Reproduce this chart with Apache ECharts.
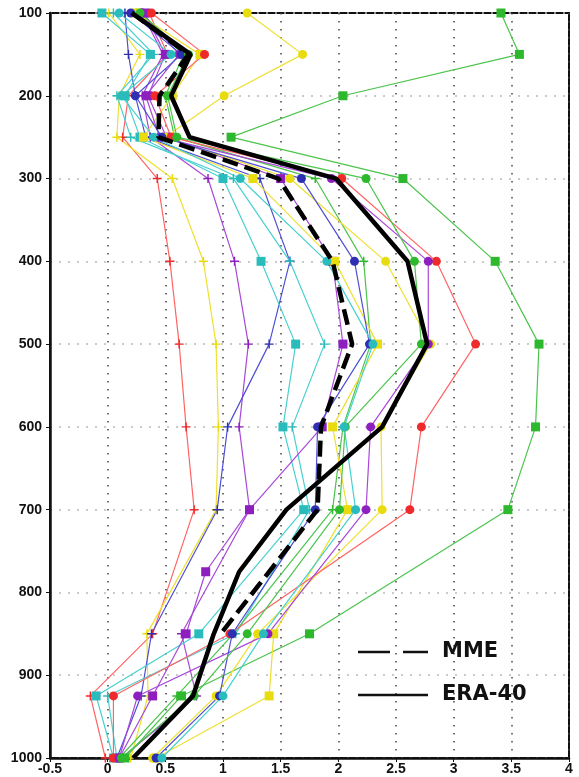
<!DOCTYPE html>
<html>
<head>
<meta charset="utf-8">
<script src="https://cdn.jsdelivr.net/npm/echarts@6/dist/echarts.min.js"></script>
<style>html,body{margin:0;padding:0;background:#fff;}#c{width:579px;height:777px;}</style>
</head>
<body>
<div id="c"></div>
<script>
// pressure levels (hPa)
const levels    = [100,150,200,250,300,400,500,600,700,850,925,1000];
const levelsEra = [100,150,200,250,300,400,500,600,700,775,850,925,1000];
const levelsMme = [100,150,200,250,300,400,500,600,700,850];

// x-axis ticks
const xTicks = [-0.5,0,0.5,1,1.5,2,2.5,3,3.5,4];

// model profiles (values at levels)
const redPlus      = [0.36, 0.52, 0.18, 0.13, 0.43, 0.54, 0.62, 0.68, 0.75, 0.39, -0.15, -0.02];
const yellowPlus   = [0.01, 0.28, 0.10, 0.08, 0.56, 0.83, 0.94, 0.96, 0.94, 0.34, 0.35, 0.20];
const purplePlus   = [0.30, 0.48, 0.30, 0.37, 0.87, 1.10, 1.22, 1.14, 1.23, 0.64, 0.77, 0.12];
const bluePlus     = [0.15, 0.18, 0.24, 0.33, 1.32, 1.58, 1.40, 1.04, 0.95, 0.38, 0.29, 0.08];
const cyanPlus     = [0.05, 0.40, 0.08, 0.20, 1.09, 1.58, 1.88, 1.60, 1.75, 1.11, 0.00, 0.08];
const greenPlus    = [0.25, 0.66, 0.50, 0.58, 1.80, 2.22, 2.28, 2.04, 1.95, 1.09, 0.60, 0.10];
const cyanSquare   = [-0.05, 0.37, 0.15, 0.28, 1.00, 1.33, 1.63, 1.52, 1.70, 0.79, -0.10, 0.05];
const purpleSquare = [0.32, 0.50, 0.35, 0.51, 1.50, 1.95, 2.04, 1.86, 1.23, 0.85, 0.68, 0.39, 0.10]; // levelsEra
const greenSquare  = [3.41, 3.57, 2.04, 1.07, 2.56, 3.36, 3.74, 3.71, 3.47, 1.75, 0.64, 0.15];
const yellowSquare = [0.25, 0.80, 0.56, 0.31, 1.26, 1.97, 2.34, 1.95, 2.08, 1.44, 1.40, 0.42];
const yellowCircle = [1.21, 1.69, 1.01, 0.50, 1.58, 2.41, 2.80, 2.37, 2.38, 1.30, 0.94, 0.39];
const redCircle    = [0.38, 0.84, 0.41, 0.55, 2.03, 2.85, 3.19, 2.72, 2.62, 1.06, 0.05, 0.05];
const purpleCircle = [0.30, 0.62, 0.33, 0.45, 1.94, 2.78, 2.78, 2.28, 2.24, 1.39, 0.26, 0.10];
const blueCircle   = [0.20, 0.64, 0.24, 0.47, 1.68, 2.14, 2.27, 1.82, 1.80, 1.08, 0.97, 0.42];
const greenCircle  = [0.28, 0.70, 0.52, 0.60, 2.24, 2.66, 2.72, 2.06, 2.01, 1.21, 0.75, 0.12];
const cyanCircle   = [0.10, 0.55, 0.12, 0.40, 1.15, 1.90, 2.30, 2.05, 2.15, 1.35, 1.00, 0.47];

// ensemble mean and reanalysis
const mme   = [0.21, 0.70, 0.45, 0.44, 1.48, 1.95, 2.12, 1.85, 1.82, 0.98];       // levelsMme
const era40 = [0.21, 0.72, 0.55, 0.71, 1.98, 2.60, 2.77, 2.38, 1.55, 1.14, 0.92, 0.74, 0.22]; // levelsEra

const legendNames = ['MME', 'ERA-40'];

const C = {
  red:    {line:'#ff6464', item:'#ee2a2a'},
  yellow: {line:'#eee030', item:'#e8dc10'},
  purple: {line:'#a848d8', item:'#8e1fbf'},
  blue:   {line:'#5050d4', item:'#2f2fb4'},
  cyan:   {line:'#48d0d0', item:'#2abcbc'},
  green:  {line:'#4cc44c', item:'#2eb82e'}
};
const PLUS = 'path://M0,4.2H10V5.8H0ZM4.2,0H5.8V10H4.2Z';
const SYM = {plus:[PLUS,9], square:['rect',9], circle:['circle',9]};

function pairs(xs, lv){ return xs.map((v,i)=>[v, lv[i]]); }
function model(name, xs, lv, col, mk){
  return {
    name, type:'line', data:pairs(xs, lv),
    symbol:SYM[mk][0], symbolSize:SYM[mk][1], showSymbol:true,
    lineStyle:{color:C[col].line, width:1.2},
    itemStyle:{color:C[col].item},
    emphasis:{disabled:true}, animation:false, z:2
  };
}

const series = [
  model('redPlus', redPlus, levels, 'red', 'plus'),
  model('yellowPlus', yellowPlus, levels, 'yellow', 'plus'),
  model('purplePlus', purplePlus, levels, 'purple', 'plus'),
  model('bluePlus', bluePlus, levels, 'blue', 'plus'),
  model('cyanPlus', cyanPlus, levels, 'cyan', 'plus'),
  model('greenPlus', greenPlus, levels, 'green', 'plus'),
  model('cyanSquare', cyanSquare, levels, 'cyan', 'square'),
  model('purpleSquare', purpleSquare, levelsEra, 'purple', 'square'),
  model('greenSquare', greenSquare, levels, 'green', 'square'),
  model('yellowSquare', yellowSquare, levels, 'yellow', 'square'),
  model('yellowCircle', yellowCircle, levels, 'yellow', 'circle'),
  model('redCircle', redCircle, levels, 'red', 'circle'),
  model('purpleCircle', purpleCircle, levels, 'purple', 'circle'),
  model('blueCircle', blueCircle, levels, 'blue', 'circle'),
  model('greenCircle', greenCircle, levels, 'green', 'circle'),
  model('cyanCircle', cyanCircle, levels, 'cyan', 'circle'),
  {name:legendNames[0], type:'line', data:pairs(mme, levelsMme), symbol:'none',
   lineStyle:{color:'#000', width:4.5, type:[16,7]}, itemStyle:{color:'#000'}, z:5, animation:false},
  {name:legendNames[1], type:'line', data:pairs(era40, levelsEra), symbol:'none',
   lineStyle:{color:'#000', width:4.5}, itemStyle:{color:'#000'}, z:6, animation:false}
];

const chart = echarts.init(document.getElementById('c'));
chart.setOption({
  backgroundColor:'#fff',
  animation:false,
  grid:{left:50, right:10, top:13, bottom:19, show:true, borderColor:'#111', borderWidth:2, backgroundColor:'transparent'},
  xAxis:{
    type:'value', min:xTicks[0], max:xTicks[xTicks.length-1], interval:0.5,
    axisLine:{show:true, onZero:false, lineStyle:{color:'#111', width:2.5}},
    axisTick:{show:true, length:4, lineStyle:{color:'#111'}},
    axisLabel:{color:'#111', fontFamily:'Liberation Sans', fontWeight:'bold', fontSize:14, margin:4,
      formatter:v=>String(v)},
    splitLine:{show:true, lineStyle:{color:'#444', width:1.5, type:[1.5,6.5]}}
  },
  yAxis:{
    type:'value', inverse:true, min:levels[0], max:levels[levels.length-1], interval:100,
    axisLine:{show:true, onZero:false, lineStyle:{color:'#111', width:2.5}},
    axisTick:{show:true, length:4, lineStyle:{color:'#111'}},
    axisLabel:{color:'#111', fontFamily:'Liberation Sans', fontWeight:'bold', fontSize:14, margin:8,
      formatter:v=>String(v)},
    splitLine:{show:true, lineStyle:{color:'#bbb', width:1.5, type:[2,7]}}
  },
  graphic:[
    {type:'line', shape:{x1:358, y1:652, x2:428, y2:652}, style:{stroke:'#111', lineWidth:2.5, lineDash:[32,13]}, z:10},
    {type:'text', x:442, y:652, style:{text:legendNames[0], fontFamily:'DejaVu Sans', fontWeight:'bold', fontSize:21, fill:'#111', textVerticalAlign:'middle'}, z:10},
    {type:'line', shape:{x1:358, y1:695, x2:428, y2:695}, style:{stroke:'#111', lineWidth:2.5}, z:10},
    {type:'text', x:442, y:695, style:{text:legendNames[1], fontFamily:'DejaVu Sans', fontWeight:'bold', fontSize:21, fill:'#111', textVerticalAlign:'middle'}, z:10}
  ],
  series
});
</script>
</body>
</html>
